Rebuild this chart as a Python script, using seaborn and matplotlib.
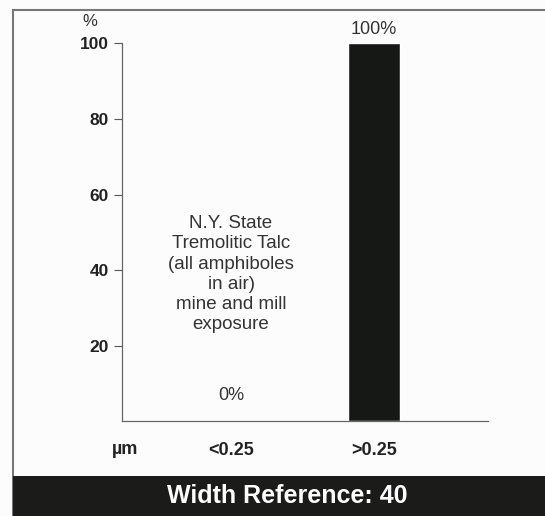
import matplotlib
matplotlib.use("Agg")
import matplotlib.pyplot as plt
import seaborn as sns
import pandas as pd
from matplotlib.patches import Rectangle

categories = ["<0.25", ">0.25"]
percent = [0, 100]
y_ticks = [20, 40, 60, 80, 100]
note = "N.Y. State\nTremolitic Talc\n(all amphiboles\nin air)\nmine and mill\nexposure"
banner = "Width Reference: 40"

sns.set_style("white")
plt.rcParams['font.family'] = ['Liberation Sans', 'DejaVu Sans']

df = pd.DataFrame({"size": categories, "pct": percent})

fig = plt.figure(figsize=(5.45, 5.16), dpi=100, facecolor="#fbfcfb")
ax = fig.add_axes([0.2239, 0.1841, 0.6716, 0.7316])
ax.set_facecolor("#fbfcfb")

sns.barplot(data=df, x="size", y="pct", color="#161816", width=0.364,
            saturation=1, ax=ax)

ax.set_xlim(-0.762, 1.797)
ax.set_ylim(0, 100)
ax.set_yticks(y_ticks)
ax.set_yticklabels([str(t) for t in y_ticks], fontweight="bold", fontsize=12.5, color="#222")
ax.tick_params(axis="y", left=True, length=6, width=0.8, color="#555", pad=3.5)
ax.tick_params(axis="x", bottom=False, pad=11.5, labelsize=13)
for lab in ax.get_xticklabels():
    lab.set_fontweight("bold")
    lab.set_color("#222")
ax.set_xlabel("")
ax.set_ylabel("")
for s in ["top", "right"]:
    ax.spines[s].set_visible(False)
for s in ["left", "bottom"]:
    ax.spines[s].set_color("#666")
    ax.spines[s].set_linewidth(0.9)

# value labels above the bars
for i, v in enumerate(percent):
    off = 12 if v == 0 else 3.6
    ax.annotate(f"{v}%", (i, v), xytext=(0, off), textcoords="offset points",
                ha="center", va="bottom", fontsize=13, color="#333")

ax.text(0, 38.9, note, ha="center", va="center", fontsize=13.5, color="#333",
        linespacing=1.25)

fig.text(89.5 / 545, 1 - 21 / 516, "%", ha="center", va="center",
         fontsize=12, color="#333")
fig.text(125 / 545, 1 - 449 / 516, "µm", ha="center", va="center",
         fontsize=13, fontweight="bold", color="#222")

# outer frame and bottom banner
fig.add_artist(Rectangle((13 / 545, 0), 1.0, 1 - 10 / 516, transform=fig.transFigure,
                         fill=False, edgecolor="#777", linewidth=1.5))
fig.add_artist(Rectangle((13 / 545, 0), 1.0, 1 - 476 / 516, transform=fig.transFigure,
                         facecolor="#1b1c1a", edgecolor="none"))
fig.text(0.5275, 1 - 496 / 516, banner, ha="center", va="center", color="white",
         fontsize=18, fontweight="bold")

fig.savefig("out.png", dpi=100, facecolor=fig.get_facecolor())
